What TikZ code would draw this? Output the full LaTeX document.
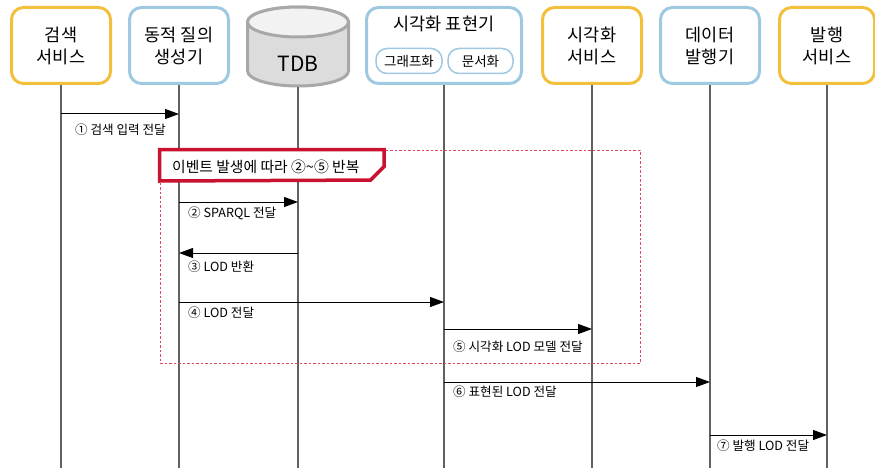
\documentclass[tikz,border=0pt]{standalone}
\usepackage{fontspec}
\setmainfont{Noto Sans CJK KR}
\usepackage{xcolor}
\definecolor{SvcOrange}{RGB}{243,192,62}
\definecolor{GenBlue}{RGB}{158,201,225}
\definecolor{LoopRed}{RGB}{200,18,48}
\definecolor{LoopPink}{RGB}{226,70,96}
\definecolor{DbGray}{RGB}{220,220,220}
\definecolor{DbTop}{RGB}{242,242,242}
\definecolor{DbEdge}{RGB}{168,168,168}
\usepackage{tikz}
\usetikzlibrary{math,arrows.meta}
\tikzset{%
  px/.style={x={(1pt,0pt)},y={(0pt,-1pt)}},
  actor/.style={draw, line width=3pt, rounded corners=12pt, fill=white,
    minimum width=99pt, minimum height=76pt, align=center, inner sep=2pt,
    font=\fontsize{17.5}{22}\selectfont},
  service/.style={actor, draw=SvcOrange},
  module/.style={actor, draw=GenBlue},
  tag/.style={draw=GenBlue, line width=1.5pt, rounded corners=11pt,
    minimum height=25pt, inner sep=0pt, font=\fontsize{13.5}{15}\selectfont},
  life line/.style={line width=1.5pt, color=black!62},
  msg/.style={line width=1pt, -{Triangle[length=14pt,width=10pt]}},
  msg label/.style={anchor=west, inner sep=0pt, font=\fontsize{12.6}{14}\selectfont},
  loop frame/.style={draw=LoopPink, line width=0.9pt, dash pattern=on 2.5pt off 2pt}
}

\begin{document}
\begin{tikzpicture}[px]
    \useasboundingbox (0,0) rectangle (875,468);
    \tikzmath{
      \boxy=45.5;
      \dbtop=22;
      \dbbot=71;
      \dbrx=50.5;
      \dbry=15;
    }
    \coordinate (bottom) at (0,470);
    % actors
    \node[service] (srch) at (61,\boxy) {검색\\서비스};
    \node[module] (query) at (179,\boxy) {동적 질의\\생성기};
    \node[module, minimum width=155pt] (vis) at (444,\boxy) {};
    \node[service] (vsvc) at (592,\boxy) {시각화\\서비스};
    \node[module] (pub) at (710,\boxy) {데이터\\발행기};
    \node[service, minimum width=95pt] (psvc) at (827,\boxy) {발행\\서비스};
    \node[font=\fontsize{17.5}{22}\selectfont] (vis-title) at (444,24) {시각화 표현기};
    \node[tag, minimum width=66pt] (graph) at (409,61) {그래프화};
    \node[tag, minimum width=65pt] (doc) at (480.5,61) {문서화};
    % TDB
    \filldraw[fill=DbGray, draw=DbEdge, line width=3pt]
      (298-\dbrx,\dbtop) -- (298-\dbrx,\dbbot)
      arc[start angle=180, end angle=0, x radius=\dbrx, y radius=\dbry]
      -- (298+\dbrx,\dbtop)
      arc[start angle=0, end angle=-180, x radius=\dbrx, y radius=\dbry] -- cycle;
    \filldraw[fill=DbTop, draw=DbEdge, line width=3pt]
      (298,\dbtop) ellipse[x radius=\dbrx, y radius=\dbry];
    \node[font=\fontsize{21}{24}\selectfont] (tdb) at (298,64) {TDB};
    \coordinate (tdb-base) at (298,\dbbot+\dbry+1.5);
    % life lines
    \foreach \s in {srch.south, query.south, tdb-base, vis.south, vsvc.south, pub.south, psvc.south} {
      \draw[life line] (\s) -- (\s |- bottom);
    }
    % repeat frame
    \node[loop frame, minimum width=480pt, minimum height=213pt, inner sep=0pt] (loop) at (400,256.5) {};
    \filldraw[fill=white, draw=LoopRed, line width=3.5pt, line join=miter]
      (loop.north west) -- ++(224.5,0) -- ++(0,17) -- ++(-13.5,13.5)
      -- (loop.north west |- 0,181) -- cycle;
    \node[anchor=west, inner sep=0pt, font=\fontsize{14.8}{17}\selectfont] (loop-tag) at (172,166.5) {이벤트 발생에 따라 ②\textasciitilde⑤ 반복};
    % messages
    \foreach \i/\a/\b/\l/\y/\dx/\dy/\txt in {
        1/srch/query/srch/114/14/16/{① 검색 입력 전달},
        2/query/tdb-base/query/202/9/11/{② SPARQL 전달},
        3/tdb-base/query/query/253/9/14/{③ LOD 반환},
        4/query/vis/query/302/9/11/{④ LOD 전달},
        5/vis/vsvc/vis/329/9/18/{⑤ 시각화 LOD 모델 전달},
        6/vis/pub/vis/382/9/10/{⑥ 표현된 LOD 전달},
        7/pub/psvc/pub/435/7/11/{⑦ 발행 LOD 전달}} {
      \coordinate (m\i-from) at (\a |- 0,\y);
      \coordinate (m\i-to) at (\b |- 0,\y);
      \coordinate (m\i-left) at (\l |- 0,\y);
      \draw[msg] (m\i-from) -- (m\i-to);
      \node[msg label] (m\i-text) at ([xshift=\dx pt, yshift=-\dy pt]m\i-left) {\txt};
    }
  \end{tikzpicture}
\end{document}
